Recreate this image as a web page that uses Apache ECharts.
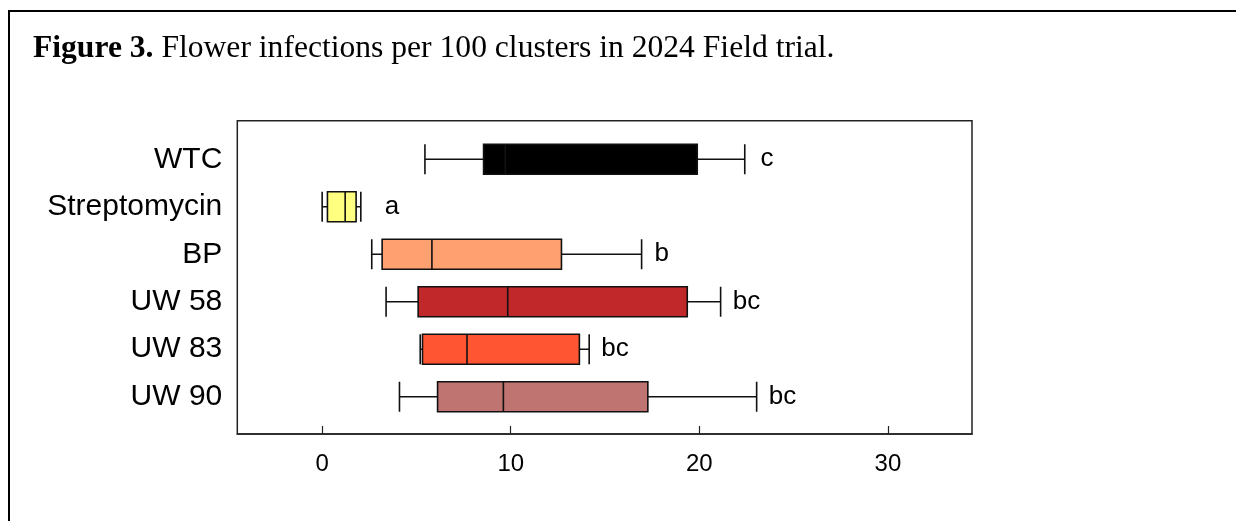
<!DOCTYPE html>
<html>
<head>
<meta charset="utf-8">
<script src="https://cdn.jsdelivr.net/npm/echarts@6/dist/echarts.min.js"></script>
<style>
html,body{margin:0;padding:0;background:#fff;}
#chart{width:1236px;height:521px;}
</style>
</head>
<body>
<div id="chart"></div>
<script>
// Data
const categories = ['WTC', 'Streptomycin', 'BP', 'UW 58', 'UW 83', 'UW 90'];
// [min, Q1, median, Q3, max]
const wtc          = [5.45, 8.56, 9.71, 19.89, 22.41];
const streptomycin = [0.0, 0.28, 1.22, 1.80, 2.05];
const bp           = [2.63, 3.18, 5.82, 12.69, 16.94];
const uw58         = [3.39, 5.09, 9.84, 19.36, 21.13];
const uw83         = [5.20, 5.32, 7.68, 13.64, 14.16];
const uw90         = [4.10, 6.12, 9.61, 17.27, 23.04];
const letters      = ['c', 'a', 'b', 'bc', 'bc', 'bc'];
const letterX      = [23.25, 3.32, 17.63, 21.77, 14.80, 23.68];
const xTicks       = [0, 10, 20, 30];
const boxColors    = ['#000000', '#ffff80', '#ffa070', '#c0282a', '#ff5533', '#c07472'];

const boxes = [wtc, streptomycin, bp, uw58, uw83, uw90];
const X_MIN = -4.5, X_MAX = 34.46;

const chart = echarts.init(document.getElementById('chart'), null, {renderer: 'canvas'});
const option = {
  backgroundColor: '#ffffff',
  animation: false,
  graphic: [
    {type: 'rect', shape: {x: 9, y: 11, width: 1400, height: 700},
     style: {fill: 'none', stroke: '#000', lineWidth: 2}},
    {type: 'text', left: 33, top: 33,
     style: {
       text: '{b|Figure 3.} {r|Flower infections per 100 clusters in 2024 Field trial.}',
       rich: {
         b: {fontFamily: 'Liberation Serif', fontWeight: 'bold', fontSize: 31.6, fill: '#000'},
         r: {fontFamily: 'Liberation Serif', fontSize: 31.6, fill: '#000'}
       },
       fontFamily: 'Liberation Serif', fontSize: 31.6, fill: '#000'
     }}
  ],
  grid: [
    {left: 237.3, top: 120.7, right: 264, bottom: 87, show: true,
     borderColor: '#222', borderWidth: 1.5, backgroundColor: 'transparent'},
    {left: 237.3, top: 135.55, right: 264, bottom: 100.55, show: false}
  ],
  xAxis: [
    {type: 'value', gridIndex: 0, min: X_MIN, max: X_MAX,
     splitLine: {show: false},
     axisLine: {show: true, lineStyle: {color: '#222', width: 1.5}},
     axisTick: {show: true, inside: true, length: 8, lineStyle: {color: '#222', width: 1.2},
       customValues: xTicks},
     axisLabel: {show: true, margin: 18, fontSize: 24, color: '#000', fontFamily: 'Liberation Sans',
       customValues: xTicks, formatter: v => String(v)}
    },
    {type: 'value', gridIndex: 1, min: X_MIN, max: X_MAX, show: false,
     splitLine: {show: false}}
  ],
  yAxis: [
    {type: 'value', gridIndex: 0, min: 0, max: 1, show: false, splitLine: {show: false}},
    {type: 'category', gridIndex: 1, data: categories, inverse: true,
     axisLine: {show: false}, axisTick: {show: false}, splitLine: {show: false},
     axisLabel: {show: true, margin: 15, fontSize: 30, color: '#000', fontFamily: 'Liberation Sans'}
    }
  ],
  series: [
    {
      type: 'boxplot', xAxisIndex: 1, yAxisIndex: 1,
      boxWidth: [30, 30],
      itemStyle: {borderColor: '#111', borderWidth: 1.6},
      emphasis: {disabled: true},
      data: boxes.map((b, i) => ({value: b, itemStyle: {color: boxColors[i], borderColor: '#111', borderWidth: 1.6}}))
    },
    {
      type: 'scatter', xAxisIndex: 1, yAxisIndex: 1,
      symbolSize: 0, itemStyle: {color: '#000'},
      silent: true,
      data: letters.map((l, i) => ({name: l, value: [letterX[i], categories[i]]})),
      label: {show: true, position: 'right', distance: 0, formatter: p => p.name,
        fontSize: 26, color: '#000', opacity: 1, fontFamily: 'Liberation Sans'}
    }
  ]
};
chart.setOption(option);
</script>
</body>
</html>
